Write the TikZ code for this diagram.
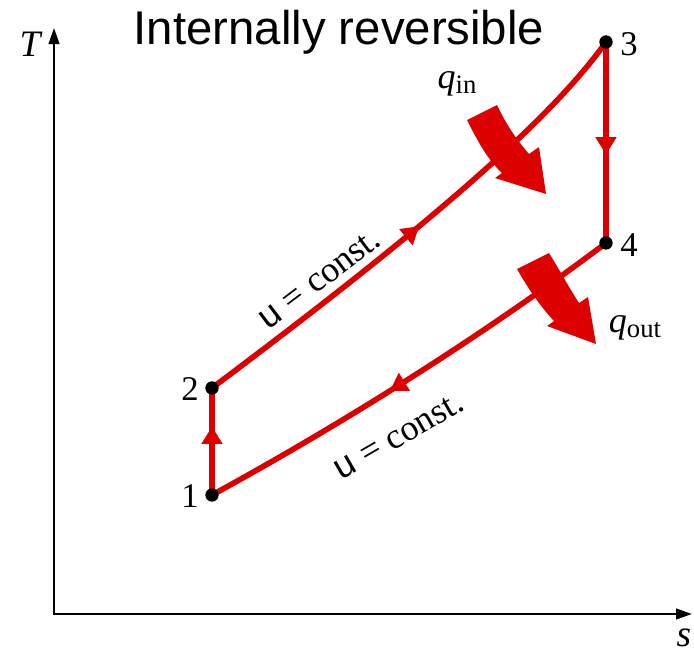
\documentclass[tikz,border=0pt]{standalone}
\usepackage{fontspec}
\setmainfont{Liberation Serif}
\setsansfont{Liberation Sans}
\usetikzlibrary{arrows.meta,decorations.markings}
\definecolor{cycred}{RGB}{220,0,0}
\tikzset{
  axis/.style={line width=1.6pt,-{Triangle[length=12pt,width=8pt]}},
  cycline/.style={cycred,line width=4.2pt},
  midarrow/.style={postaction={decorate},decoration={markings,mark=at position #1 with {\arrow{Triangle[length=13pt,width=15pt]}}}},
  dot/.style={circle,fill=black,inner sep=0pt,minimum size=10pt},
  numlabel/.style={font=\fontsize{26}{26}\selectfont,inner sep=0pt},
  axlabel/.style={font=\fontsize{28}{28}\selectfont\itshape,inner sep=0pt},
  qlabel/.style={font=\fontsize{27}{27}\selectfont,inner sep=0pt},
  ulabel/.style={font=\fontsize{27}{27}\selectfont,inner sep=0pt},
  fatarrow/.style={fill=cycred,draw=none}
}
\begin{document}
\begin{tikzpicture}[x=0.75pt,y=-0.75pt]
\useasboundingbox (0,0) rectangle (694,653);
% axes
\coordinate (origin) at (54,614);
\coordinate (tend) at (54,28);
\coordinate (send) at (692,614);
\draw[axis] (origin) -- (tend);
\draw[axis] ([xshift=-0.8pt]origin) -- (send);
\node[axlabel] (Tlab) at (30,44) {T};
\node[axlabel] (slab) at (684,638) {s};
% title
\node[font=\fontsize{35.5}{36}\sffamily\selectfont,inner sep=0pt,anchor=base] (title) at (339,45) {Internally reversible};
% state points
\coordinate (c1) at (212,495);
\coordinate (c2) at (212,388);
\coordinate (c3) at (606,42);
\coordinate (c4) at (606,243);
% cycle
\draw[cycline,midarrow=0.64] (c1) -- (c2);
\draw[cycline,midarrow=0.5] (c2) .. controls (380,262) and (540,135) .. (c3);
\draw[cycline,midarrow=0.56] (c3) -- (c4);
\draw[cycline,midarrow=0.56] (c4) .. controls (480,338) and (340,425) .. (c1);
% fat heat arrows
\path[fatarrow] (467,120) .. controls (478,142) and (488,160) .. (502,173) -- (495,178) -- (546,194) -- (539,147) -- (529,154) .. controls (515,138) and (505,122) .. (497,105) -- cycle;
\path[fatarrow] (517,269) .. controls (529,290) and (541,307) .. (554,321) -- (547,326) -- (596,344) -- (588,297) -- (579,303) .. controls (568,286) and (559,269) .. (549,253) -- cycle;
% dots
\node[dot] (p1) at (c1) {};
\node[dot] (p2) at (c2) {};
\node[dot] (p3) at (c3) {};
\node[dot] (p4) at (c4) {};
\node[numlabel] (l1) at (190,496) {1};
\node[numlabel] (l2) at (190,389) {2};
\node[numlabel] (l3) at (629,44) {3};
\node[numlabel] (l4) at (629,245) {4};
% labels
\node[qlabel] (qin) at (457,84) {\textit{q}\raisebox{-0.3ex}{\fontsize{20}{20}\selectfont in}};
\node[qlabel] (qout) at (635,328) {\textit{q}\raisebox{-0.3ex}{\fontsize{20}{20}\selectfont out}};
\node[ulabel,rotate=37] (uc1) at (320,279) {{\sffamily u} = const.};
\node[ulabel,rotate=30] (uc2) at (399,436) {{\sffamily u} = const.};
\end{tikzpicture}
\end{document}
